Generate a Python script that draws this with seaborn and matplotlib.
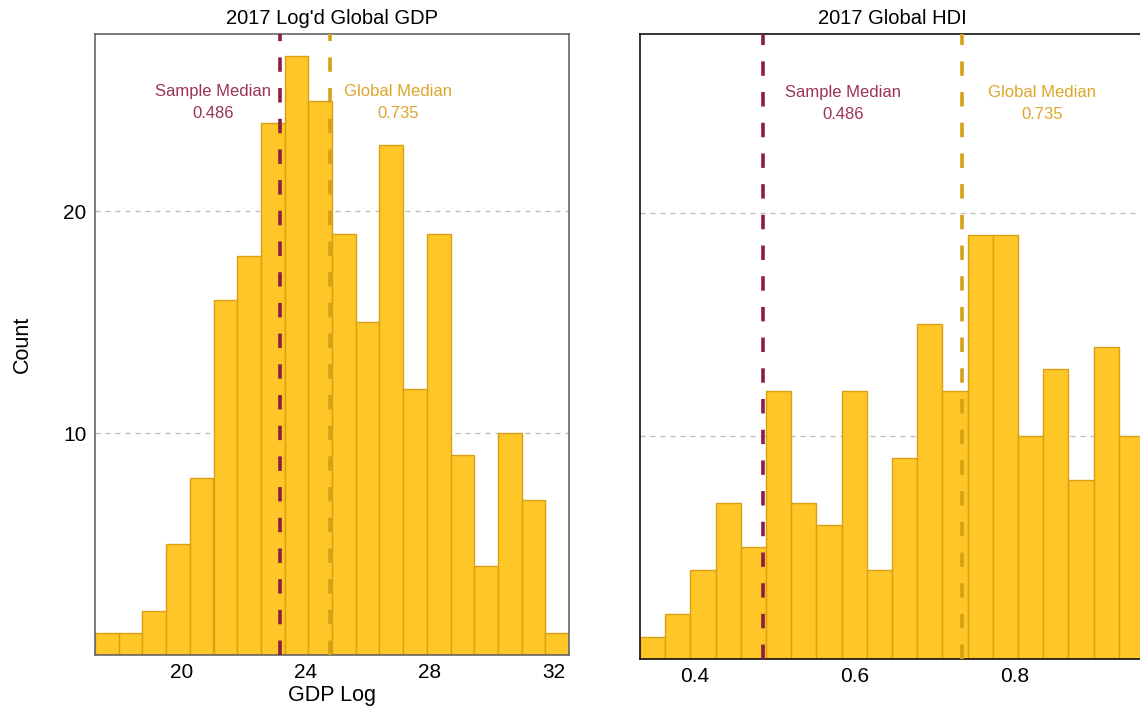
import matplotlib
matplotlib.use('Agg')
import matplotlib.pyplot as plt
import numpy as np
import pandas as pd
import seaborn as sns

# Histogram counts (20 bins per panel)
gdp_range = (17.21, 32.48)
gdp_counts = [1, 1, 2, 5, 8, 16, 18, 24, 27, 25, 19, 15, 23, 12, 19, 9, 4, 10, 7, 1]
hdi_range = (0.332, 0.962)
hdi_counts = [1, 2, 4, 7, 5, 12, 7, 6, 12, 4, 9, 15, 12, 19, 19, 10, 13, 8, 14, 10]

# Median lines (positions) and labels
gdp_medians = [23.17, 24.78]
hdi_medians = [0.486, 0.735]
median_names = ['Sample Median', 'Global Median']
median_labels = ['0.486', '0.735']
gdp_label_x = [21.0, 26.97]
hdi_label_x = [0.586, 0.835]

gdp_ticks = [20, 24, 28, 32]
hdi_ticks = [0.4, 0.6, 0.8]
count_ticks = [10, 20]

fill = '#FFC627'
edge = '#D9A015'
line_colors = ['#8C1D40', '#D6A016']
text_colors = ['#9B3355', '#DDA52A']

sns.set_theme(style='white')
plt.rcParams['font.family'] = ['Liberation Sans', 'DejaVu Sans']
plt.rcParams['text.color'] = 'black'
plt.rcParams['axes.labelcolor'] = 'black'
plt.rcParams['xtick.color'] = 'black'
plt.rcParams['ytick.color'] = 'black'

fig = plt.figure(figsize=(11.4, 7.15), dpi=100)
ax1 = fig.add_axes([95 / 1140, 60 / 715, 474 / 1140, 621 / 715])
ax2 = fig.add_axes([640 / 1140, 56 / 715, 504 / 1140, 625 / 715])


def draw_panel(ax, rng, counts, medians, label_x, ticks, title):
    edges = np.linspace(rng[0], rng[1], len(counts) + 1)
    df = pd.DataFrame({'value': (edges[:-1] + edges[1:]) / 2, 'n': counts})
    for y in count_ticks:
        ax.axhline(y, color='#bbbbbb', lw=0.9, ls=(0, (4, 4)), zorder=0)
    sns.histplot(data=df, x='value', weights='n', bins=list(edges), ax=ax,
                 color=fill, edgecolor=edge, linewidth=1.0, alpha=1, zorder=2)
    for m, lx, name, lab, lc, tc in zip(medians, label_x, median_names,
                                         median_labels, line_colors, text_colors):
        ax.axvline(m, color=lc, lw=2.6, ls=(0, (4, 4.5)), zorder=3)
        ax.text(lx, 24.9, name + '\n' + lab, color=tc, fontsize=12,
                ha='center', va='center', linespacing=1.6)
    ax.set_xlim(rng)
    ax.set_ylim(0, 28)
    ax.set_xticks(ticks)
    ax.set_yticks(count_ticks)
    ax.tick_params(length=0, labelsize=15, pad=6)
    ax.set_title(title, fontsize=14.5, pad=7, color='black')
    ax.set_xlabel('')
    ax.set_ylabel('')


draw_panel(ax1, gdp_range, gdp_counts, gdp_medians, gdp_label_x, gdp_ticks,
           "2017 Log'd Global GDP")
ax1.set_xticklabels([str(t) for t in gdp_ticks])
ax1.set_yticklabels([str(t) for t in count_ticks])
ax1.set_xlabel('GDP Log', fontsize=15.5, labelpad=2)
ax1.set_ylabel('Count', fontsize=15.5, labelpad=22)
for s in ax1.spines.values():
    s.set_color('#666666')
    s.set_linewidth(1.2)

draw_panel(ax2, hdi_range, hdi_counts, hdi_medians, hdi_label_x, hdi_ticks,
           '2017 Global HDI')
ax2.set_yticklabels([])
for s in ax2.spines.values():
    s.set_color('#111111')
    s.set_linewidth(1.2)

fig.savefig('out.png', dpi=100)
